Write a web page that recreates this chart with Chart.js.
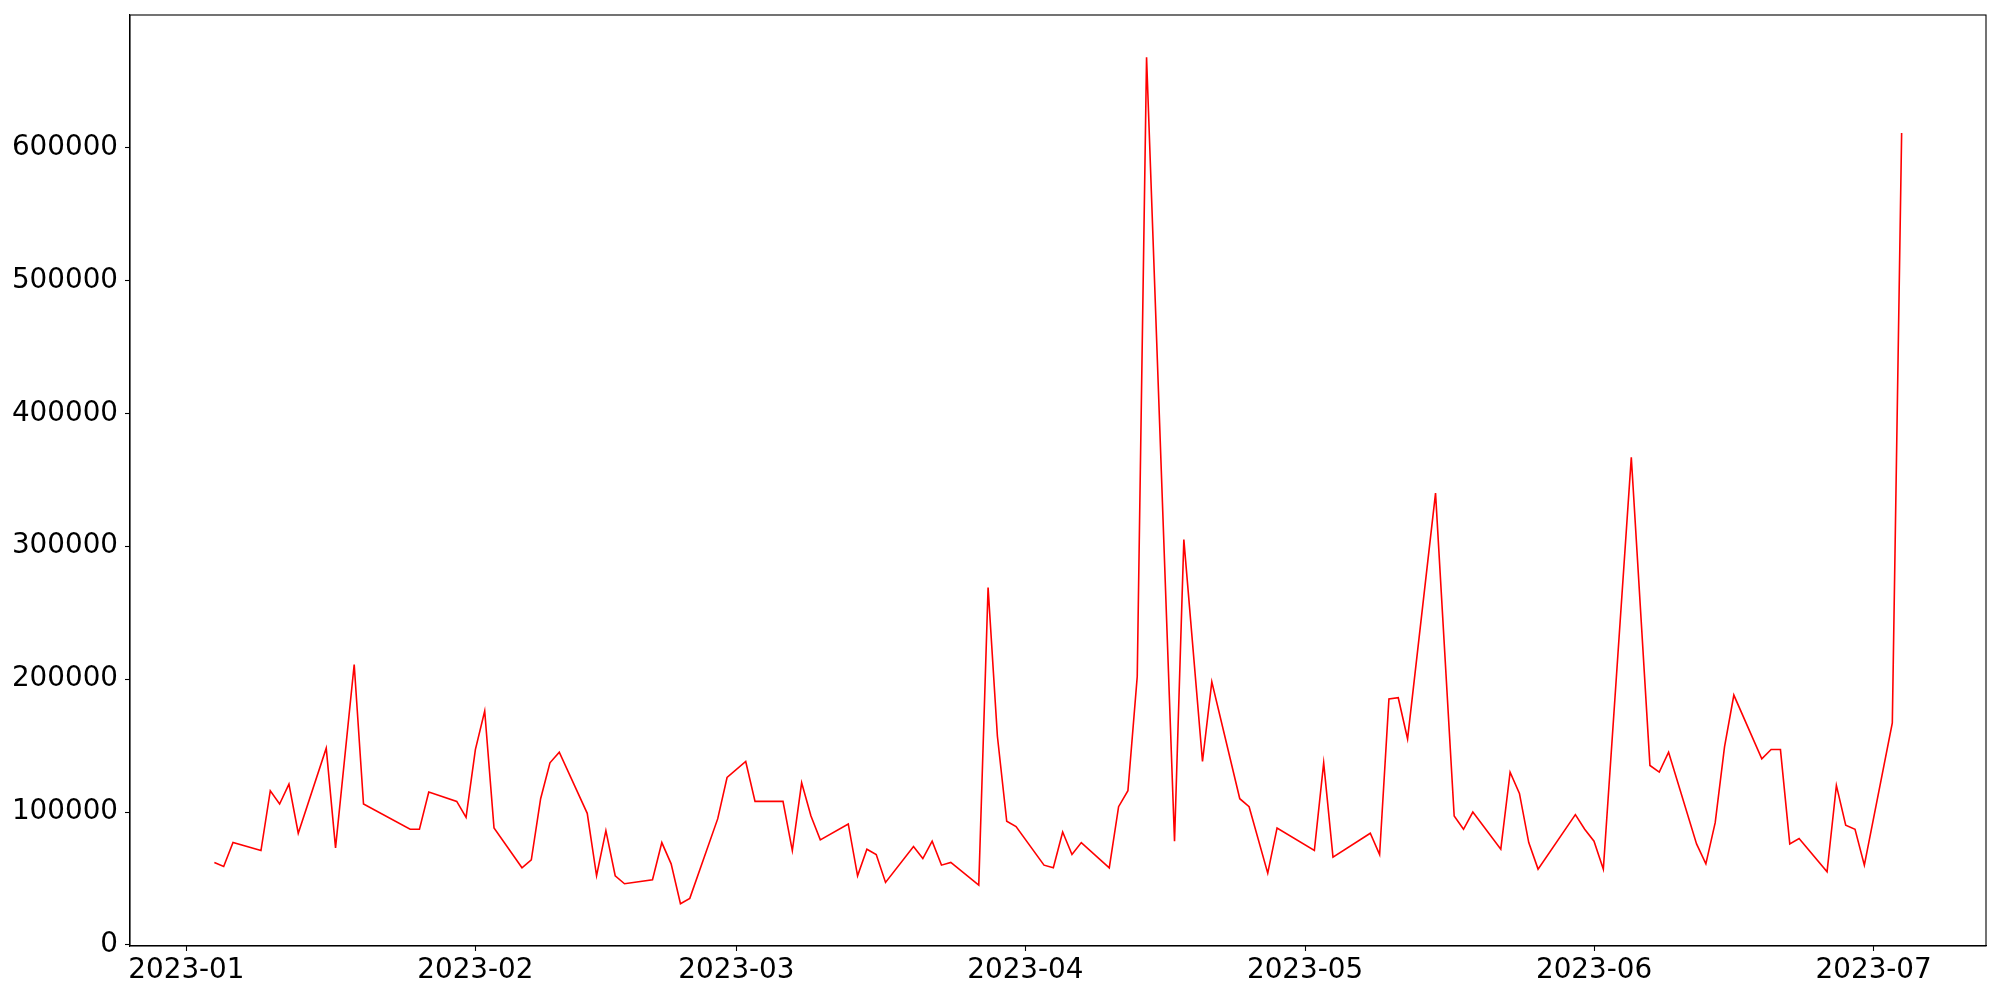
<!DOCTYPE html>
<html>
<head>
<meta charset="utf-8">
<script src="https://cdn.jsdelivr.net/npm/chart.js@4/dist/chart.umd.min.js"></script>
<style>
  html, body { margin: 0; padding: 0; background: #fff; }
  #wrap { width: 2000px; height: 1000px; }
</style>
</head>
<body>
<div id="wrap"><canvas id="c" width="2000" height="1000"></canvas></div>
<script>
// ---- data ----
const dates = [
  '2023-01-04','2023-01-05','2023-01-06','2023-01-09','2023-01-10','2023-01-11','2023-01-12','2023-01-13',
  '2023-01-16','2023-01-17','2023-01-19','2023-01-20','2023-01-25','2023-01-26','2023-01-27','2023-01-30','2023-01-31',
  '2023-02-01','2023-02-02','2023-02-03','2023-02-06','2023-02-07','2023-02-08','2023-02-09','2023-02-10',
  '2023-02-13','2023-02-14','2023-02-15','2023-02-16','2023-02-17','2023-02-20','2023-02-21','2023-02-22','2023-02-23','2023-02-24',
  '2023-02-27','2023-02-28','2023-03-02','2023-03-03','2023-03-06','2023-03-07','2023-03-08','2023-03-09','2023-03-10',
  '2023-03-13','2023-03-14','2023-03-15','2023-03-16','2023-03-17','2023-03-20','2023-03-21','2023-03-22','2023-03-23','2023-03-24',
  '2023-03-27','2023-03-28','2023-03-29','2023-03-30','2023-03-31',
  '2023-04-03','2023-04-04','2023-04-05','2023-04-06','2023-04-07','2023-04-10','2023-04-11','2023-04-12','2023-04-13','2023-04-14',
  '2023-04-17','2023-04-18','2023-04-20','2023-04-21','2023-04-24','2023-04-25','2023-04-27','2023-04-28',
  '2023-05-02','2023-05-03','2023-05-04','2023-05-08','2023-05-09','2023-05-10','2023-05-11','2023-05-12',
  '2023-05-15','2023-05-17','2023-05-18','2023-05-19','2023-05-22','2023-05-23','2023-05-24','2023-05-25','2023-05-26',
  '2023-05-30','2023-05-31','2023-06-01','2023-06-02','2023-06-05','2023-06-07','2023-06-08','2023-06-09',
  '2023-06-12','2023-06-13','2023-06-14','2023-06-15','2023-06-16','2023-06-19','2023-06-20','2023-06-21','2023-06-22','2023-06-23',
  '2023-06-26','2023-06-27','2023-06-28','2023-06-29','2023-06-30','2023-07-03','2023-07-04'
];
const values = [
  62000,59000,77000,71000,116000,106000,121000,84000,
  148000,73000,211000,106000,87000,87000,115000,108000,96000,
  147000,176000,88000,58000,64000,110000,137000,145000,
  99000,52000,86000,52000,46000,49000,77000,61000,31000,35000,
  95000,126000,138000,108000,108000,71000,122000,97000,79000,
  91000,52000,72000,68000,47000,74000,65000,78000,60000,62000,
  45000,269000,157000,93000,89000,
  60000,58000,85000,68000,77000,58000,104000,116000,202000,668000,
  78000,305000,138000,198000,110000,104000,54000,88000,
  71000,137000,66000,84000,68000,185000,186000,155000,
  340000,97000,87000,100000,72000,130000,114000,77000,57000,
  98000,87000,78000,57000,367000,135000,130000,145000,
  76000,61000,92000,149000,188000,140000,147000,147000,76000,80000,
  55000,120000,90000,87000,60000,167000,611000
];
const xTickDates = ['2023-01-01','2023-02-01','2023-03-01','2023-04-01','2023-05-01','2023-06-01','2023-07-01'];
const xTickLabels = ['2023-01','2023-02','2023-03','2023-04','2023-05','2023-06','2023-07'];
const yTickValues = [0,100000,200000,300000,400000,500000,600000];

// ---- helpers ----
const DAY = 86400000;
const base = Date.UTC(2023,0,1);
const toDay = s => { const [y,m,d] = s.split('-').map(Number); return (Date.UTC(y,m-1,d) - base) / DAY; };
const xs = dates.map(toDay);
const points = xs.map((x,i) => ({x, y: values[i]}));
const xTickDays = xTickDates.map(toDay);

const xMinD = Math.min(...xs), xMaxD = Math.max(...xs);
const yMinD = Math.min(...values), yMaxD = Math.max(...values);
const xm = (xMaxD - xMinD) * 0.05, ym = (yMaxD - yMinD) * 0.05;

const FONT = { family: 'DejaVu Sans', size: 27.8 };

const boxPlugin = {
  id: 'box',
  afterDraw(chart) {
    const a = chart.chartArea, ctx = chart.ctx;
    ctx.save();
    ctx.strokeStyle = '#000';
    ctx.lineWidth = 1.1;
    ctx.strokeRect(a.left, a.top, a.right - a.left, a.bottom - a.top);
    ctx.restore();
  }
};

new Chart(document.getElementById('c'), {
  type: 'line',
  data: {
    datasets: [{
      data: points,
      borderColor: '#ff0000',
      borderWidth: 1.6,
      pointRadius: 0,
      tension: 0,
      fill: false
    }]
  },
  options: {
    responsive: false,
    animation: false,
    devicePixelRatio: 1,
    layout: { padding: { top: 15, right: 14, left: 0, bottom: 0 } },
    plugins: { legend: { display: false }, tooltip: { enabled: false } },
    scales: {
      x: {
        type: 'linear',
        min: xMinD - xm,
        max: xMaxD + xm,
        afterBuildTicks: s => { s.ticks = xTickDays.map(v => ({ value: v })); },
        afterFit: s => { s.height = 54; s.paddingLeft = 0; s.paddingRight = 0; },
        ticks: {
          autoSkip: false, maxRotation: 0, minRotation: 0,
          color: '#000', font: FONT, padding: 3,
          callback: v => xTickLabels[xTickDays.indexOf(v)]
        },
        grid: { drawOnChartArea: false, drawTicks: true, tickLength: 5, tickColor: '#000', tickWidth: 1.1 },
        border: { display: true, color: '#000', width: 1.1 }
      },
      y: {
        type: 'linear',
        min: yMinD - ym,
        max: yMaxD + ym,
        afterBuildTicks: s => { s.ticks = yTickValues.map(v => ({ value: v })); },
        afterFit: s => { s.width = 130; s.paddingTop = 0; s.paddingBottom = 0; },
        ticks: {
          autoSkip: false, color: '#000', font: FONT, padding: 7,
          callback: v => String(v)
        },
        grid: { drawOnChartArea: false, drawTicks: true, tickLength: 5, tickColor: '#000', tickWidth: 1.1 },
        border: { display: true, color: '#000', width: 1.1 }
      }
    }
  },
  plugins: [boxPlugin]
});
</script>
</body>
</html>
